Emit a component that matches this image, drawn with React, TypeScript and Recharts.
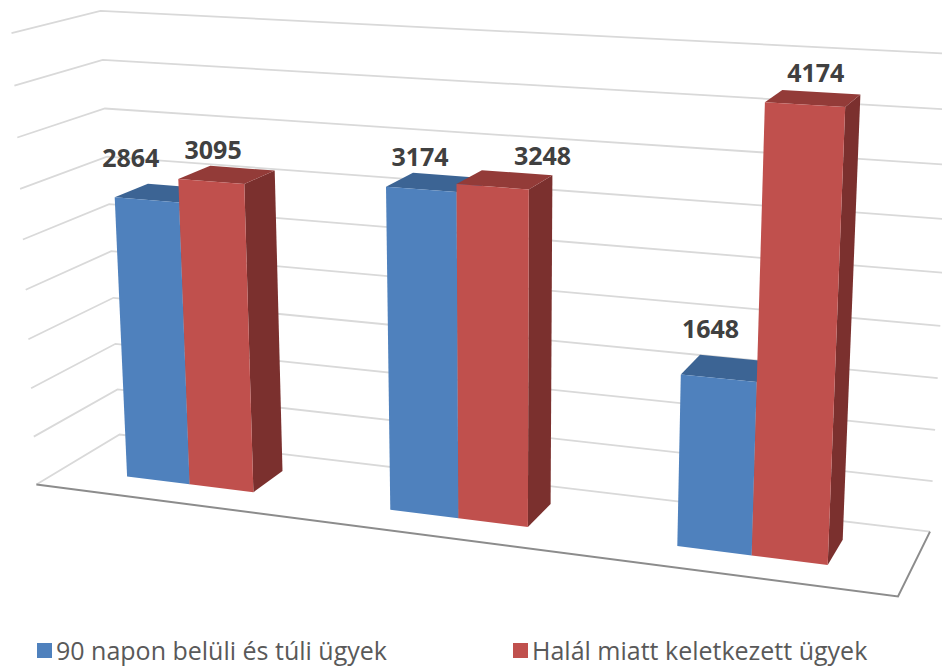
import React from 'react';
import { BarChart, Bar, XAxis, YAxis, CartesianGrid, Legend } from 'recharts';

const CATEGORIES = ['I', 'II', 'III'];
const SERIES_NAMES = ['90 napon belüli és túli ügyek', 'Halál miatt keletkezett ügyek'];
const BLUE_VALUES = [2864, 3174, 1648];
const RED_VALUES = [3095, 3248, 4174];
const Y_TICKS = [0, 500, 1000, 1500, 2000, 2500, 3000, 3500, 4000, 4500];

const W = 942;
const H = 668;
const PLOT_LEFT = 0;
const PLOT_W = 942;

// where the corners of the 3D box (X, Y, Z in 0..1, Z=0 front) land on screen
const BOX_CORNERS: [number[], number[]][] = [
  [[0, 0, 0], [36, 485]],
  [[1, 0, 0], [898, 596]],
  [[0, 0, 1], [120, 434]],
  [[1, 0, 1], [930, 532]],
  [[0, 1, 1], [100, 11]],
  [[1, 1, 1], [954, 54]],
  [[0, 1, 0], [12, 33]],
];
const BAR_Z = [0.31, 0.71];

// label nudges relative to the front top centre of the bar
const LABEL_NUDGE = [
  [[-16, -33], [-1, -23], [-8, -40]],
  [[2, -22], [50, -22], [11, -23]],
];
const LEGEND_LEFT = [37, 513];

const COLORS = [
  { front: '#4f81bd', top: '#3c6494', side: '#345a86' },
  { front: '#c0504d', top: '#933b38', side: '#7b302e' },
];

const data = CATEGORIES.map((name, i) => ({ name, a: BLUE_VALUES[i], b: RED_VALUES[i] }));

// least squares fit of a 3x4 projective camera (DLT)
function solveCamera(pts: [number[], number[]][]) {
  const rows: number[][] = [];
  const rhs: number[] = [];
  for (const [[X, Y, Z], [u0, v0]] of pts) {
    const u = u0 / 1000;
    const v = v0 / 1000;
    rows.push([X, Y, Z, 1, 0, 0, 0, 0, -u * X, -u * Y, -u * Z]);
    rhs.push(u);
    rows.push([0, 0, 0, 0, X, Y, Z, 1, -v * X, -v * Y, -v * Z]);
    rhs.push(v);
  }
  const n = 11;
  const M = Array.from({ length: n }, () => new Array(n + 1).fill(0));
  rows.forEach((r, k) => {
    for (let i = 0; i < n; i++) {
      for (let j = 0; j < n; j++) M[i][j] += r[i] * r[j];
      M[i][n] += r[i] * rhs[k];
    }
  });
  for (let c = 0; c < n; c++) {
    let p = c;
    for (let r = c + 1; r < n; r++) if (Math.abs(M[r][c]) > Math.abs(M[p][c])) p = r;
    [M[c], M[p]] = [M[p], M[c]];
    for (let r = 0; r < n; r++) {
      if (r === c) continue;
      const f = M[r][c] / M[c][c];
      for (let j = c; j <= n; j++) M[r][j] -= f * M[c][j];
    }
  }
  return M.map((row, i) => row[n] / row[i]);
}

const CAM = solveCamera(BOX_CORNERS);

const project = (X: number, Y: number, Z: number) => {
  const w = CAM[8] * X + CAM[9] * Y + CAM[10] * Z + 1;
  return [
    (1000 * (CAM[0] * X + CAM[1] * Y + CAM[2] * Z + CAM[3])) / w,
    (1000 * (CAM[4] * X + CAM[5] * Y + CAM[6] * Z + CAM[7])) / w,
  ];
};

const toPoints = (pts: number[][]) => pts.map((p) => `${p[0].toFixed(1)},${p[1].toFixed(1)}`).join(' ');

const renderGridLine = (props: any) => {
  const { y1, y, height, index } = props;
  const Y = (y + height - y1) / height;
  const wall = [project(0, Y, 0), project(0, Y, 1), project(1, Y, 1)];
  if (Y < 0.001) {
    const fl = project(0, 0, 0);
    const fr = project(1, 0, 0);
    const br = project(1, 0, 1);
    return (
      <g key={`grid-${index}`}>
        <polyline points={toPoints(wall)} fill="none" stroke="#d9d9d9" strokeWidth={1.8} />
        <polyline points={toPoints([fl, fr, br])} fill="none" stroke="#8c8c8c" strokeWidth={2} />
      </g>
    );
  }
  return <polyline key={`grid-${index}`} points={toPoints(wall)} fill="none" stroke="#d9d9d9" strokeWidth={1.8} />;
};

const makeBox = (s: number) => (props: any) => {
  const { x, y, width, background, index, value } = props;
  const plotTop = background ? background.y : 0;
  const plotH = background ? background.height : H;
  const X0 = (x - PLOT_LEFT) / PLOT_W;
  const X1 = (x + width - PLOT_LEFT) / PLOT_W;
  const Yt = (plotTop + plotH - y) / plotH;
  const [Z0, Z1] = BAR_Z;
  const c = COLORS[s];
  const front = [project(X0, 0, Z0), project(X1, 0, Z0), project(X1, Yt, Z0), project(X0, Yt, Z0)];
  const top = [project(X0, Yt, Z0), project(X1, Yt, Z0), project(X1, Yt, Z1), project(X0, Yt, Z1)];
  const side = [project(X1, 0, Z0), project(X1, 0, Z1), project(X1, Yt, Z1), project(X1, Yt, Z0)];
  const anchor = project((X0 + X1) / 2, Yt, Z0);
  const [dx, dy] = LABEL_NUDGE[s][index] || [0, -20];
  const v = Array.isArray(value) ? value[1] : value;
  return (
    <g>
      <polygon points={toPoints(side)} fill={c.side} />
      <polygon points={toPoints(top)} fill={c.top} />
      <polygon points={toPoints(front)} fill={c.front} />
      <text
        x={anchor[0] + dx}
        y={anchor[1] + dy}
        textAnchor="middle"
        fontFamily="'Open Sans', sans-serif"
        fontWeight={700}
        fontSize={25}
        fill="#404040"
      >
        {v}
      </text>
    </g>
  );
};

const renderLegend = (props: any) => {
  const { payload } = props;
  return (
    <div style={{ position: 'relative', height: 34, fontFamily: "'Open Sans', sans-serif", fontSize: 25, color: '#595959' }}>
      {(payload || []).map((p: any, i: number) => (
        <div
          key={p.value}
          style={{ position: 'absolute', left: LEGEND_LEFT[i], top: 0, display: 'flex', alignItems: 'center', whiteSpace: 'nowrap' }}
        >
          <span style={{ display: 'inline-block', width: 15, height: 15, background: p.color, marginRight: 4 }} />
          <span>{p.value}</span>
        </div>
      ))}
    </div>
  );
};

export default function App() {
  return (
    <div style={{ position: 'absolute', left: 0, top: 0, width: W, height: H, background: '#fff' }}>
      <BarChart
        width={W}
        height={H}
        data={data}
        margin={{ top: 0, right: 0, bottom: 0, left: 0 }}
        barCategoryGap="25.5%"
        barGap={0}
      >
        <CartesianGrid vertical={false} horizontal={renderGridLine} />
        <XAxis dataKey="name" hide />
        <YAxis domain={[0, 4500]} ticks={Y_TICKS} hide />
        <Bar dataKey="a" name={SERIES_NAMES[0]} fill={COLORS[0].front} shape={makeBox(0)} isAnimationActive={false} />
        <Bar dataKey="b" name={SERIES_NAMES[1]} fill={COLORS[1].front} shape={makeBox(1)} isAnimationActive={false} />
        <Legend
          verticalAlign="bottom"
          content={renderLegend}
          wrapperStyle={{ position: 'absolute', left: 0, top: 633, bottom: 'auto', width: W, height: 34 }}
        />
      </BarChart>
    </div>
  );
}
